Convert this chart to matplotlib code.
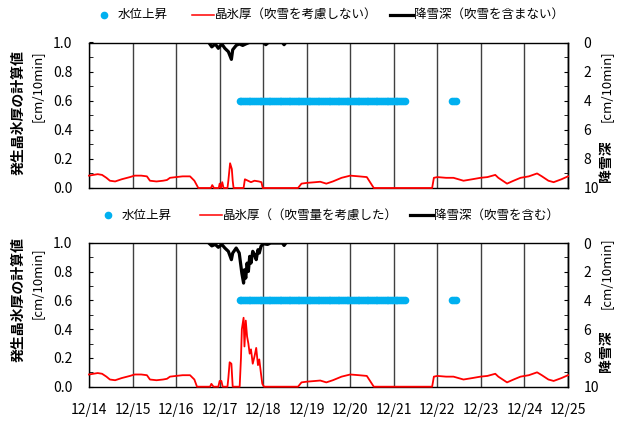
import matplotlib
matplotlib.use('Agg')
import matplotlib.pyplot as plt
from matplotlib.lines import Line2D
from matplotlib.ticker import MultipleLocator, FormatStrFormatter

plt.rcParams['font.family'] = ['Noto Sans CJK JP', 'DejaVu Sans']

dates = ['12/14', '12/15', '12/16', '12/17', '12/18', '12/19',
         '12/20', '12/21', '12/22', '12/23', '12/24', '12/25']

# time axis: days since 12/14 0:00
# 晶氷厚 (吹雪を考慮しない) [cm/10min]
ice_t_top = [0.00, 0.10, 0.20, 0.30, 0.40, 0.48, 0.60, 0.75, 0.94, 1.05, 1.20, 1.33,
             1.40, 1.55, 1.70, 1.79, 1.86, 2.00, 2.15, 2.32, 2.42, 2.51, 2.80, 2.83,
             2.87, 2.98, 3.00, 3.03, 3.06, 3.09, 3.18, 3.20, 3.24, 3.28, 3.30, 3.32,
             3.55, 3.58, 3.65, 3.72, 3.80, 3.90, 3.96, 3.99, 4.80, 4.88, 5.00, 5.20,
             5.31, 5.45, 5.60, 5.80, 6.00, 6.20, 6.38, 6.54, 7.88, 7.92, 8.00, 8.20,
             8.37, 8.60, 8.80, 8.99, 9.15, 9.33, 9.40, 9.60, 9.75, 9.91, 10.10, 10.29,
             10.40, 10.55, 10.67, 10.85, 11.00]
ice_top = [0.085, 0.09, 0.095, 0.09, 0.07, 0.05, 0.045, 0.06, 0.075, 0.085, 0.085, 0.08,
           0.05, 0.045, 0.05, 0.055, 0.07, 0.075, 0.08, 0.08, 0.05, 0.0, 0.0, 0.02,
           0.0, 0.0, 0.03, 0.0, 0.04, 0.0, 0.0, 0.05, 0.17, 0.13, 0.05, 0.0,
           0.0, 0.06, 0.05, 0.04, 0.05, 0.045, 0.04, 0.0, 0.0, 0.03, 0.035, 0.04,
           0.043, 0.03, 0.045, 0.07, 0.085, 0.08, 0.075, 0.0, 0.0, 0.07, 0.075, 0.07,
           0.07, 0.05, 0.06, 0.07, 0.075, 0.09, 0.07, 0.03, 0.05, 0.07, 0.08, 0.10,
           0.08, 0.05, 0.04, 0.06, 0.08]

# 晶氷厚 (吹雪量を考慮した) [cm/10min]
ice_t_bot = [0.00, 0.10, 0.20, 0.30, 0.40, 0.48, 0.60, 0.75, 0.94, 1.05, 1.20, 1.33,
             1.40, 1.55, 1.70, 1.79, 1.86, 2.00, 2.15, 2.32, 2.42, 2.48, 2.78, 2.81,
             2.86, 2.97, 3.00, 3.04, 3.07, 3.18, 3.20, 3.23, 3.27, 3.30, 3.46, 3.49,
             3.51, 3.55, 3.57, 3.60, 3.63, 3.66, 3.69, 3.72, 3.76, 3.80, 3.84, 3.88,
             3.91, 3.95, 3.98, 4.02, 4.80, 4.88, 5.00, 5.20, 5.31, 5.45, 5.60, 5.80,
             6.00, 6.20, 6.38, 6.54, 7.88, 7.92, 8.00, 8.20, 8.37, 8.60, 8.80, 8.99,
             9.15, 9.33, 9.40, 9.60, 9.75, 9.91, 10.10, 10.29, 10.40, 10.55, 10.67,
             10.85, 11.00]
ice_bot = [0.085, 0.09, 0.095, 0.09, 0.07, 0.05, 0.045, 0.06, 0.075, 0.085, 0.085, 0.08,
           0.05, 0.045, 0.05, 0.055, 0.07, 0.075, 0.08, 0.08, 0.05, 0.0, 0.0, 0.02,
           0.0, 0.0, 0.04, 0.04, 0.0, 0.0, 0.06, 0.17, 0.16, 0.0, 0.0, 0.20,
           0.40, 0.48, 0.28, 0.46, 0.35, 0.30, 0.23, 0.26, 0.16, 0.21, 0.27, 0.15,
           0.19, 0.09, 0.02, 0.0, 0.0, 0.03, 0.035, 0.04, 0.043, 0.03, 0.045, 0.07,
           0.085, 0.08, 0.075, 0.0, 0.0, 0.07, 0.075, 0.07, 0.07, 0.05, 0.06, 0.07,
           0.075, 0.09, 0.07, 0.03, 0.05, 0.07, 0.08, 0.10, 0.08, 0.05, 0.04,
           0.06, 0.08]

# 降雪深 [cm/10min] (right axis, inverted)
snow_t_top = [2.75, 2.82, 2.90, 2.97, 3.05, 3.12, 3.20, 3.27, 3.30, 3.38, 3.45,
              3.53, 3.60, 3.68, 4.00, 4.06, 4.12, 4.44, 4.48, 4.52]
snow_top = [0.0, 0.3, 0.1, 0.4, 0.1, 0.4, 0.63, 1.16, 0.5, 0.2, 0.1,
            0.2, 0.1, 0.0, 0.0, 0.15, 0.0, 0.0, 0.15, 0.0]

snow_t_bot = [2.75, 2.82, 2.90, 2.97, 3.05, 3.12, 3.20, 3.27, 3.30, 3.38, 3.45,
              3.49, 3.51, 3.55, 3.57, 3.60, 3.63, 3.66, 3.69, 3.72, 3.76, 3.80,
              3.84, 3.88, 3.91, 3.95, 4.00, 4.10, 4.17, 4.44, 4.48, 4.52]
snow_bot = [0.0, 0.2, 0.1, 0.3, 0.1, 0.35, 0.58, 1.16, 0.7, 0.35, 0.7,
            1.63, 2.1, 2.79, 1.86, 2.44, 1.4, 1.98, 0.93, 1.4, 0.58, 0.8,
            1.16, 0.47, 0.7, 0.23, 0.05, 0.1, 0.0, 0.0, 0.17, 0.0]

# 水位上昇 (hours since 12/14 0:00)
rise_hours_1 = [83, 84, 85, 86, 87, 88, 89, 90, 91, 92, 93, 94, 95, 96, 97, 98, 99,
                100, 101, 102, 103, 104, 105, 106, 107, 108, 109, 110, 111, 112, 113,
                114, 115, 116, 117, 118, 119, 120, 121, 122, 123, 124, 125, 126, 127,
                128, 129, 130, 131, 132, 133, 134, 135, 136, 137, 138, 139, 140, 141,
                142, 143, 144, 145, 146, 147, 148, 149, 150, 151, 152, 153, 154, 155,
                156, 157, 158, 159, 160, 161, 162, 163, 164, 165, 166, 167, 168, 169,
                170, 171, 172, 173, 174]
rise_hours_2 = [200, 201, 202]
rise_level = 0.6

W, H = 617, 421
fig = plt.figure(figsize=(W / 100, H / 100), dpi=100)


def fx(x):
    return x / W


def fy(y):
    return 1 - y / H


BLUE = '#00B0F0'
panels = [
    dict(top=42.5, bot=188, ice_t=ice_t_top, ice=ice_top, snow_t=snow_t_top, snow=snow_top,
         ice_lab='晶氷厚（吹雪を考慮しない）', snow_lab='降雪深（吹雪を含まない）'),
    dict(top=243, bot=386.7, ice_t=ice_t_bot, ice=ice_bot, snow_t=snow_t_bot, snow=snow_bot,
         ice_lab='晶氷厚（（吹雪量を考慮した）', snow_lab='降雪深（吹雪を含む）'),
]

for i, p in enumerate(panels):
    ax = fig.add_axes([fx(89), fy(p['bot']), fx(568) - fx(89), (p['bot'] - p['top']) / H])
    ax.set_xlim(0, 11)
    ax.set_ylim(0, 1)
    ax.set_xticks(range(12))
    ax.grid(axis='x', color='#404040', lw=1)
    ax.set_axisbelow(True)
    for hrs in (rise_hours_1, rise_hours_2):
        ax.scatter([h / 24 for h in hrs], [rise_level] * len(hrs), s=30, color=BLUE,
                   lw=0, zorder=4)
    ax.yaxis.set_major_locator(MultipleLocator(0.2))
    ax.yaxis.set_minor_locator(MultipleLocator(0.1))
    ax.yaxis.set_major_formatter(FormatStrFormatter('%.1f'))
    ax.tick_params(axis='y', which='both', direction='in', length=3, pad=12, labelsize=10)
    ax.tick_params(axis='x', length=0, pad=12, labelsize=10)
    if i == 0:
        ax.set_xticklabels([])
    else:
        ax.set_xticklabels(dates)
    for s in ax.spines.values():
        s.set_color('black')
        s.set_linewidth(1)

    ax2 = ax.twinx()
    ax2.set_ylim(10, 0)
    for side in ('top', 'bottom', 'left'):
        ax2.spines[side].set_visible(False)
    ax2.spines['right'].set_linewidth(1)
    # red line on the twin so it sits over the bottom spine like the original
    ax2.plot(p['ice_t'], [10 - 10 * v for v in p['ice']], color='#FF0000', lw=1.3,
             zorder=3, clip_on=False)
    ax2.plot(p['snow_t'], p['snow'], color='black', lw=2.3, zorder=5)
    ax2.yaxis.set_major_locator(MultipleLocator(2))
    ax2.yaxis.set_minor_locator(MultipleLocator(1))
    ax2.tick_params(axis='y', which='both', direction='in', length=3, pad=11, labelsize=10)

    # legend row
    ly = fy(p['top'] - 28)
    fig.add_artist(Line2D([fx(104 + 4 * i)], [ly], marker='o', ms=4.5, color=BLUE, lw=0))
    fig.text(fx(118 + 4 * i), ly, '水位上昇', fontsize=9, va='center')
    x0 = 192 + 8 * i
    fig.add_artist(Line2D([fx(x0), fx(x0 + 22)], [ly, ly], color='#FF0000', lw=1.1))
    fig.text(fx(x0 + 23), ly, p['ice_lab'], fontsize=9, va='center')
    x1 = 390 + 20 * i
    fig.add_artist(Line2D([fx(x1), fx(x1 + 23)], [ly, ly], color='black', lw=2.3))
    fig.text(fx(x1 + 24), ly, p['snow_lab'], fontsize=9, va='center')

# axis titles
for top, btop, rtop, rbtop in [(50, 50, 50, 140), (237, 247, 237, 330)]:
    fig.text(fx(19), fy(top), '発生晶氷厚の計算値', rotation=90, fontsize=10,
             fontweight='bold', ha='center', va='top')
    fig.text(fx(37), fy(btop), '[cm/10min]', rotation=90, fontsize=9.5,
             ha='center', va='top')
    fig.text(fx(606), fy(rtop), '[cm/10min]', rotation=90, fontsize=9.5,
             ha='center', va='top')
    fig.text(fx(606), fy(rbtop), '降雪深', rotation=90, fontsize=10,
             fontweight='bold', ha='center', va='top')

fig.savefig('out.png', dpi=100)
